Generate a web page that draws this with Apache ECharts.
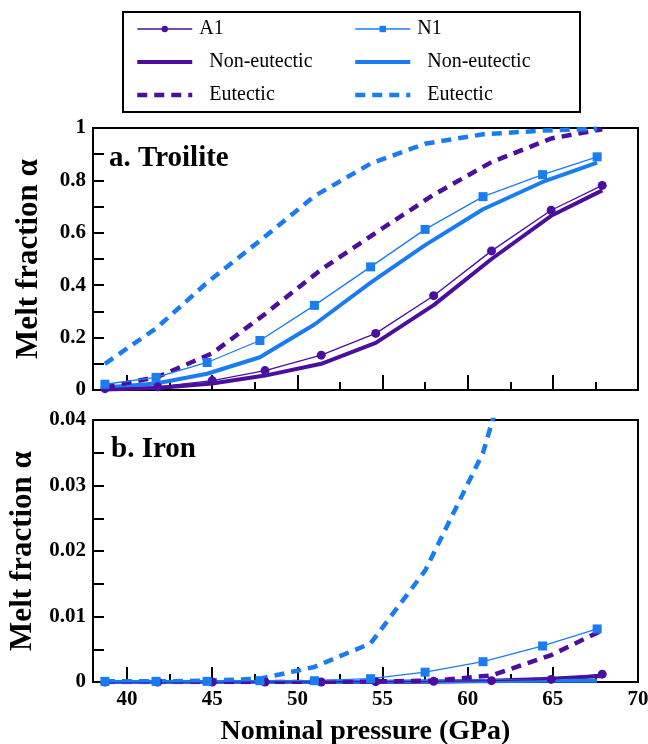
<!DOCTYPE html>
<html>
<head>
<meta charset="utf-8">
<script src="https://cdn.jsdelivr.net/npm/echarts@6/dist/echarts.min.js"></script>
<style>
  html, body { margin: 0; padding: 0; background: #fff; }
  #chart { width: 648px; height: 744px; }
</style>
</head>
<body>
<div id="chart"></div>
<script>
// pressures (GPa) of the two runs
const pressA1 = [38.7, 41.8, 45.0, 48.1, 51.4, 54.6, 58.0, 61.4, 64.9, 67.9]
const pressN1 = [38.7, 41.7, 44.7, 47.8, 51.0, 54.3, 57.5, 60.9, 64.4, 67.6]

// a. Troilite
const troA1 = [0.005, 0.012, 0.036, 0.074, 0.133, 0.216, 0.36, 0.531, 0.686, 0.781]
const troA1Non = [0.002, 0.008, 0.025, 0.055, 0.10, 0.18, 0.324, 0.50, 0.665, 0.762]
const troA1Eut = [0.01, 0.05, 0.14, 0.29, 0.46, 0.60, 0.745, 0.87, 0.96, 0.995]
const troN1 = [0.022, 0.048, 0.105, 0.189, 0.323, 0.47, 0.613, 0.738, 0.822, 0.89]
const troN1Non = [0.01, 0.025, 0.062, 0.125, 0.25, 0.41, 0.553, 0.69, 0.794, 0.868]
const troN1Eut = [0.10, 0.235, 0.41, 0.57, 0.74, 0.864, 0.94, 0.976, 0.99, 0.997]

// b. Iron
const ironA1 = [0, 0, 0, 0, 0, 0.00005, 0.0001, 0.0002, 0.0004, 0.0012]
const ironA1Non = [0, 0, 0, 0, 0, 0, 0.00005, 0.0002, 0.0005, 0.0009]
const ironA1Eut = [0, 0, 0, 0, 0, 0.0001, 0.0002, 0.001, 0.0041, 0.0079]
const ironN1 = [0.0001, 0.0001, 0.0001, 0.0002, 0.0002, 0.0005, 0.0015, 0.0031, 0.0055, 0.0081]
const ironN1Non = [0, 0, 0, 0, 0, 0.00005, 0.0001, 0.0001, 0.0002, 0.0002]
const ironN1Eut = [0.0001, 0.0001, 0.0002, 0.0005, 0.0023, 0.0059, 0.017, 0.035, 0.066, 0.10]

// tick marks
const xMajorTicks = [40, 45, 50, 55, 60, 65, 70]
const xMinorTicks = [42.5, 47.5, 52.5, 57.5, 62.5, 67.5]

const PURPLE = '#4b0e9e'
const BLUE = '#1a7cf2'
const SERIF = 'Liberation Serif'

const zip = (xs, ys) => xs.map((x, i) => [x, ys[i]])

function xAxes(gridIndex, withLabels) {
	return [{
		type: 'value',
		gridIndex: gridIndex,
		min: 38,
		max: 70,
		name: withLabels ? 'Nominal pressure (GPa)' : '',
		nameLocation: 'middle',
		nameGap: 36,
		nameTextStyle: { fontFamily: SERIF, fontWeight: 'bold', fontSize: 28, color: '#000' },
		axisLine: { lineStyle: { color: '#000', width: 2 } },
		axisTick: { show: true, inside: true, length: 15, customValues: xMajorTicks, lineStyle: { color: '#000', width: 2 } },
		axisLabel: {
			show: withLabels,
			customValues: xMajorTicks,
			fontFamily: SERIF, fontWeight: 'bold', fontSize: 21, color: '#000', margin: 7
		},
		splitLine: { show: false }
	}, {
		type: 'value',
		gridIndex: gridIndex,
		min: 38,
		max: 70,
		position: 'bottom',
		axisLine: { show: false },
		axisTick: { show: true, inside: true, length: 8, customValues: xMinorTicks, lineStyle: { color: '#000', width: 2 } },
		axisLabel: { show: false },
		splitLine: { show: false }
	}]
}

function yAxis(gridIndex, max, interval) {
	return {
		type: 'value',
		gridIndex: gridIndex,
		min: 0,
		max: max,
		interval: interval,
		name: 'Melt fraction α',
		nameLocation: 'middle',
		nameGap: 49,
		nameTextStyle: { fontFamily: SERIF, fontWeight: 'bold', fontSize: 31, color: '#000' },
		axisLine: { show: true, lineStyle: { color: '#000', width: 2 } },
		axisTick: { inside: true, length: 11, lineStyle: { color: '#000', width: 2 } },
		minorTick: { show: true, splitNumber: 2, length: 11, lineStyle: { color: '#000', width: 2 } },
		axisLabel: { fontFamily: SERIF, fontWeight: 'bold', fontSize: 21, color: '#000', margin: 7 },
		splitLine: { show: false }
	}
}

function panelSeries(idx, a1, a1Non, a1Eut, n1, n1Non, n1Eut) {
	const base = { type: 'line', xAxisIndex: idx * 2, yAxisIndex: idx, smooth: false, clip: true }
	return [
		Object.assign({}, base, {
			name: 'A1 Non-eutectic', data: zip(pressA1, a1Non), symbol: 'none',
			lineStyle: { color: PURPLE, width: 4 }, itemStyle: { color: PURPLE }
		}),
		Object.assign({}, base, {
			name: 'N1 Non-eutectic', data: zip(pressN1, n1Non), symbol: 'none',
			lineStyle: { color: BLUE, width: 4 }, itemStyle: { color: BLUE }
		}),
		Object.assign({}, base, {
			name: 'A1 Eutectic', data: zip(pressA1, a1Eut), symbol: 'none',
			lineStyle: { color: PURPLE, width: 4.5, type: [10, 7] }, itemStyle: { color: PURPLE }
		}),
		Object.assign({}, base, {
			name: 'N1 Eutectic', data: zip(pressN1, n1Eut), symbol: 'none',
			lineStyle: { color: BLUE, width: 4.5, type: [10, 7] }, itemStyle: { color: BLUE }
		}),
		Object.assign({}, base, {
			name: 'A1', data: zip(pressA1, a1), symbol: 'circle', symbolSize: 9,
			lineStyle: { color: PURPLE, width: 1.3 }, itemStyle: { color: PURPLE }
		}),
		Object.assign({}, base, {
			name: 'N1', data: zip(pressN1, n1), symbol: 'rect', symbolSize: 9,
			lineStyle: { color: BLUE, width: 1.3 }, itemStyle: { color: BLUE }
		})
	]
}

const legendText = name => {
	if (name === 'A1' || name === 'N1') return name
	return '  ' + name.slice(3)
}

// line-only legend entries: hide the default symbol in the icon
const lineOnly = name => ({ name: name, itemStyle: { opacity: 0 } })

const legendBase = {
	orient: 'vertical',
	top: 14,
	itemWidth: 55,
	itemHeight: 8,
	itemGap: 13,
	formatter: legendText,
	lineStyle: { width: 'inherit' },
	textStyle: { fontFamily: SERIF, fontSize: 20, color: '#000', padding: [0, 0, 0, 2], lineHeight: 20 }
}

const gridBase = {
	left: 93, right: 10, height: 262, show: true,
	borderColor: '#000', borderWidth: 2, backgroundColor: 'transparent',
	outerBoundsMode: 'none'
}

const option = {
	animation: false,
	backgroundColor: '#fff',
	title: [{
		text: 'a. Troilite', left: 104, top: 139,
		textStyle: { fontFamily: SERIF, fontWeight: 'bold', fontSize: 29, color: '#000' }
	}, {
		text: 'b. Iron', left: 106, top: 430,
		textStyle: { fontFamily: SERIF, fontWeight: 'bold', fontSize: 29, color: '#000' }
	}],
	legend: [
		Object.assign({}, legendBase, {
			left: 130, data: ['A1', lineOnly('A1 Non-eutectic'), lineOnly('A1 Eutectic')]
		}),
		Object.assign({}, legendBase, {
			left: 348, data: ['N1', lineOnly('N1 Non-eutectic'), lineOnly('N1 Eutectic')]
		})
	],
	graphic: [{
		type: 'rect',
		shape: { x: 123, y: 12, width: 457, height: 100 },
		style: { fill: 'none', stroke: '#000', lineWidth: 2 },
		silent: true
	}],
	grid: [
		Object.assign({}, gridBase, { top: 128 }),
		Object.assign({}, gridBase, { top: 420 })
	],
	xAxis: xAxes(0, false).concat(xAxes(1, true)),
	yAxis: [yAxis(0, 1, 0.2), yAxis(1, 0.04, 0.01)],
	series: panelSeries(0, troA1, troA1Non, troA1Eut, troN1, troN1Non, troN1Eut)
		.concat(panelSeries(1, ironA1, ironA1Non, ironA1Eut, ironN1, ironN1Non, ironN1Eut))
}

const chart = echarts.init(document.getElementById('chart'))
chart.setOption(option)
</script>
</body>
</html>
